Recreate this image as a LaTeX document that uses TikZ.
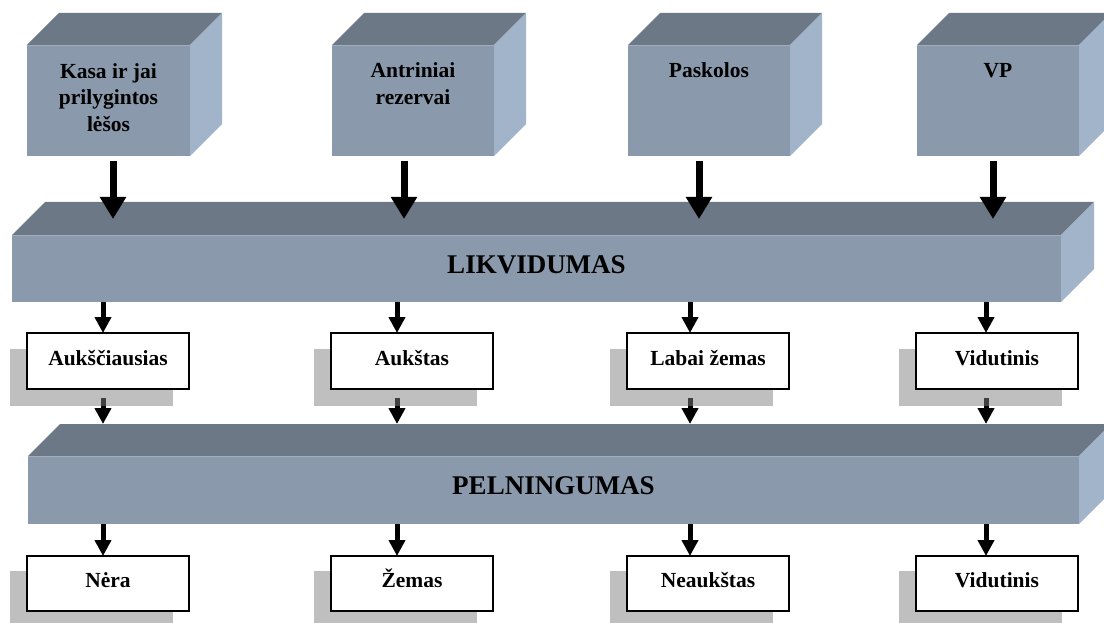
\documentclass[tikz,border=0pt]{standalone}
\usepackage{fontspec}
\setmainfont{Liberation Serif}
\usetikzlibrary{arrows.meta,calc}
\definecolor{cubetop}{RGB}{108,120,134}
\definecolor{cubefront}{RGB}{138,154,172}
\definecolor{cuberight}{RGB}{161,180,201}
\definecolor{shadecol}{RGB}{128,128,128}
\tikzset{
  frontface/.style={fill=cubefront, draw=none, inner sep=0pt, outer sep=0pt},
  boxtext/.style={font=\fontsize{21.5}{27}\selectfont\bfseries, align=center, inner sep=0pt},
  bartext/.style={font=\fontsize{27}{32}\selectfont\bfseries, inner sep=0pt},
  smallbox/.style={draw=black, line width=1.5pt, fill=white, minimum width=162pt, minimum height=56pt,
    inner sep=0pt, outer sep=0pt, text height=12pt, text depth=4pt, font=\fontsize{21.5}{27}\selectfont\bfseries},
  shadowbox/.style={fill=shadecol, fill opacity=0.5, draw=none, minimum width=163pt, minimum height=57pt, inner sep=0pt},
  bigarr/.style={line width=7pt, -{Triangle[width=25pt,length=22pt]}},
  smallarr/.style={line width=5pt, -{Triangle[width=16pt,length=16pt]}},
}
\newcommand\cubebox[6]{%
  \node[frontface, minimum width=#4pt, minimum height=#5pt] (#1) at (#2,#3) {};
  \fill[cubetop] (#1.north west) -- ++(#6,-#6) -- ($(#1.north east)+(#6,-#6)$) -- (#1.north east) -- cycle;
  \fill[cuberight] (#1.north east) -- ++(#6,-#6) -- ($(#1.south east)+(#6,-#6)$) -- (#1.south east) -- cycle;
  \draw[cubefront!80!white, line width=0.8pt] (#1.north west) -- (#1.north east);
}
\begin{document}
\begin{tikzpicture}[x=1pt,y=-1pt]
\useasboundingbox (0,0) rectangle (1104,623);
\clip (0,0) rectangle (1104,623);
% arrow columns
\coordinate (t1) at (113,0);
\coordinate (t2) at (404,0);
\coordinate (t3) at (699,0);
\coordinate (t4) at (993,0);
\coordinate (c1) at (103,0);
\coordinate (c2) at (397,0);
\coordinate (c3) at (690,0);
\coordinate (c4) at (986,0);
% top cubes
\cubebox{k1}{108.5}{100.5}{163}{111}{32}
\cubebox{k2}{413}{100.5}{162}{111}{32}
\cubebox{k3}{709}{100.5}{162}{111}{32}
\cubebox{k4}{998}{100.5}{162}{111}{32}
\node[boxtext, anchor=base] (k1t) at (108.5,132) {Kasa ir jai\\prilygintos\\lėšos};
\node[boxtext, anchor=base] (k2t) at (413,105) {Antriniai\\rezervai};
\node[boxtext, anchor=base] (k3t) at (709,78) {Paskolos};
\node[boxtext, anchor=base] (k4t) at (998,78) {VP};
% bars
\cubebox{L}{536.5}{268.5}{1049}{67}{33}
\node[bartext, anchor=base] (Lt) at (536.5,273) {LIKVIDUMAS};
\cubebox{P}{553.5}{490}{1051}{68}{32}
\node[bartext, anchor=base] (Pt) at (553.5,494) {PELNINGUMAS};
% top arrows
\foreach \i in {1,...,4}{
  \draw[bigarr, shorten <=5pt, shorten >=16pt] (k\i.south -| t\i) -- (L.north -| t\i);
}
% small boxes coordinates
\coordinate (a1c) at (108,361);
\coordinate (a2c) at (412,361);
\coordinate (a3c) at (708,361);
\coordinate (a4c) at (997,361);
\coordinate (b1c) at (108,583.5);
\coordinate (b2c) at (412,583.5);
\coordinate (b3c) at (708,583.5);
\coordinate (b4c) at (997,583.5);
% arrows from upper small boxes to P (drawn before shadows)
\foreach \i in {1,...,4}{
  \path (a\i c) ++(0,28) coordinate (as\i);
  \draw[smallarr, shorten <=9pt, shorten >=32pt] (as\i -| c\i) -- (P.north -| c\i);
}
% shadows
\foreach \i in {1,...,4}{
  \node[shadowbox] (sa\i) at ($(a\i c)+(-17,16)$) {};
  \node[shadowbox] (sb\i) at ($(b\i c)+(-17,16)$) {};
}
% small boxes
\node[smallbox] (a1) at (a1c) {Aukščiausias};
\node[smallbox] (a2) at (a2c) {Aukštas};
\node[smallbox] (a3) at (a3c) {Labai žemas};
\node[smallbox] (a4) at (a4c) {Vidutinis};
\node[smallbox, minimum height=55pt] (b1) at (b1c) {Nėra};
\node[smallbox, minimum height=55pt] (b2) at (b2c) {Žemas};
\node[smallbox, minimum height=55pt] (b3) at (b3c) {Neaukštas};
\node[smallbox, minimum height=55pt] (b4) at (b4c) {Vidutinis};
% arrows bar -> small boxes
\foreach \i in {1,...,4}{
  \draw[smallarr] (L.south -| c\i) -- (a\i.north -| c\i);
  \draw[smallarr] (P.south -| c\i) -- (b\i.north -| c\i);
}
\end{tikzpicture}
\end{document}
